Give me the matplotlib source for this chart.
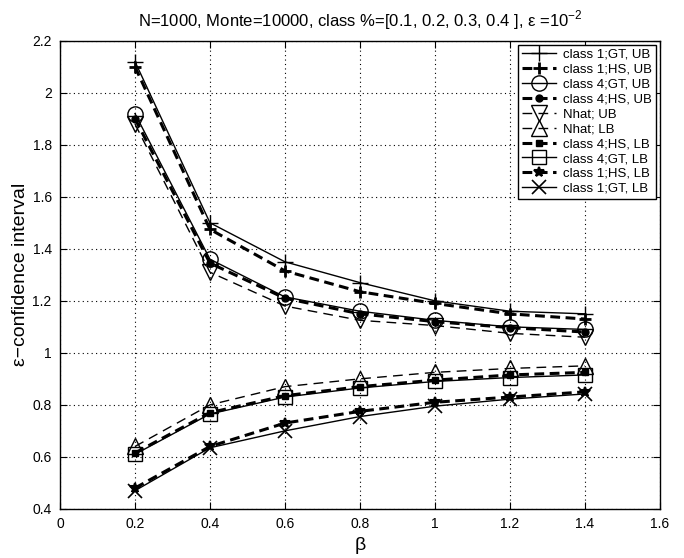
import matplotlib
matplotlib.use("Agg")
import matplotlib.pyplot as plt

plt.rcParams['font.family'] = ['Liberation Sans', 'DejaVu Sans']
plt.rcParams['mathtext.fontset'] = 'custom'
plt.rcParams['mathtext.rm'] = 'Liberation Sans'

beta = [0.2, 0.4, 0.6, 0.8, 1.0, 1.2, 1.4]

c1_gt_ub = [2.12, 1.50, 1.35, 1.27, 1.20, 1.16, 1.15]
c1_hs_ub = [2.10, 1.475, 1.315, 1.235, 1.19, 1.15, 1.13]
c4_gt_ub = [1.92, 1.36, 1.215, 1.16, 1.125, 1.10, 1.09]
c4_hs_ub = [1.90, 1.345, 1.21, 1.15, 1.12, 1.097, 1.08]
nhat_ub = [1.88, 1.31, 1.18, 1.125, 1.105, 1.075, 1.06]
nhat_lb = [0.64, 0.80, 0.87, 0.90, 0.925, 0.94, 0.95]
c4_hs_lb = [0.615, 0.77, 0.835, 0.87, 0.895, 0.915, 0.925]
c4_gt_lb = [0.61, 0.765, 0.83, 0.865, 0.89, 0.905, 0.915]
c1_hs_lb = [0.48, 0.64, 0.73, 0.775, 0.81, 0.83, 0.85]
c1_gt_lb = [0.47, 0.635, 0.70, 0.755, 0.795, 0.822, 0.842]

x_ticks = [0, 0.2, 0.4, 0.6, 0.8, 1, 1.2, 1.4, 1.6]
y_ticks = [0.4, 0.6, 0.8, 1, 1.2, 1.4, 1.6, 1.8, 2, 2.2]

fig = plt.figure(figsize=(6.84, 5.58), dpi=100)
ax = fig.add_axes([0.0877, 0.088, 0.877, 0.839])

k = 'black'
thin = 1.0
thick = 2.2
thin_dash = (7, 4.5)
thick_dash = (3.2, 1.8)

ax.plot(beta, c1_gt_ub, color=k, lw=thin, marker='+', ms=12, mew=1.0,
        label='class 1;GT, UB')
ax.plot(beta, c1_hs_ub, color=k, lw=thick, dashes=thick_dash, marker='+',
        ms=8, mew=2.0, label='class 1;HS, UB')
ax.plot(beta, c4_gt_ub, color=k, lw=thin, marker='o', ms=11, mew=1.0,
        mfc='none', label='class 4;GT, UB')
ax.plot(beta, c4_hs_ub, color=k, lw=thick, dashes=thick_dash, marker='o',
        ms=5, mfc=k, label='class 4;HS, UB')
ax.plot(beta, nhat_ub, color=k, lw=thin, dashes=thin_dash, marker='v',
        ms=11, mew=1.0, mfc='none', label='Nhat; UB')
ax.plot(beta, nhat_lb, color=k, lw=thin, dashes=thin_dash, marker='^',
        ms=11, mew=1.0, mfc='none', label='Nhat; LB')
ax.plot(beta, c4_hs_lb, color=k, lw=thick, dashes=thick_dash, marker='s',
        ms=5, mfc=k, label='class 4;HS, LB')
ax.plot(beta, c4_gt_lb, color=k, lw=thin, marker='s', ms=10, mew=1.0,
        mfc='none', label='class 4;GT, LB')
ax.plot(beta, c1_hs_lb, color=k, lw=thick, dashes=thick_dash, marker='*',
        ms=7, mew=1.5, label='class 1;HS, LB')
ax.plot(beta, c1_gt_lb, color=k, lw=thin, marker='x', ms=10, mew=1.2,
        label='class 1;GT, LB')

ax.set_xlim(0, 1.6)
ax.set_ylim(0.4, 2.2)
ax.set_xticks(x_ticks)
ax.set_xticklabels(['0', '0.2', '0.4', '0.6', '0.8', '1', '1.2', '1.4', '1.6'])
ax.set_yticks(y_ticks)
ax.set_yticklabels(['0.4', '0.6', '0.8', '1', '1.2', '1.4', '1.6', '1.8', '2', '2.2'])
ax.tick_params(direction='in', top=True, right=True, length=5, width=0.8,
               labelsize=10, pad=6)
ax.grid(True, color=k, linestyle=(0, (1, 3)), linewidth=0.8)
for s in ax.spines.values():
    s.set_linewidth(1.0)

ax.set_xlabel('β', fontsize=14, labelpad=4)
ax.set_ylabel('ε−confidence interval', fontsize=14, labelpad=2)
ax.set_title('N=1000, Monte=10000, class %=[0.1, 0.2, 0.3, 0.4 ], ε =10$^{-2}$',
             fontsize=12, pad=10)

leg = ax.legend(loc='upper right', fontsize=9.5, frameon=True, fancybox=False,
                edgecolor=k, framealpha=1, labelspacing=0.2,
                handlelength=2.6, handletextpad=0.5, borderpad=0.3,
                borderaxespad=0.3)
leg.get_frame().set_linewidth(1.0)

fig.savefig('out.png', dpi=100)
